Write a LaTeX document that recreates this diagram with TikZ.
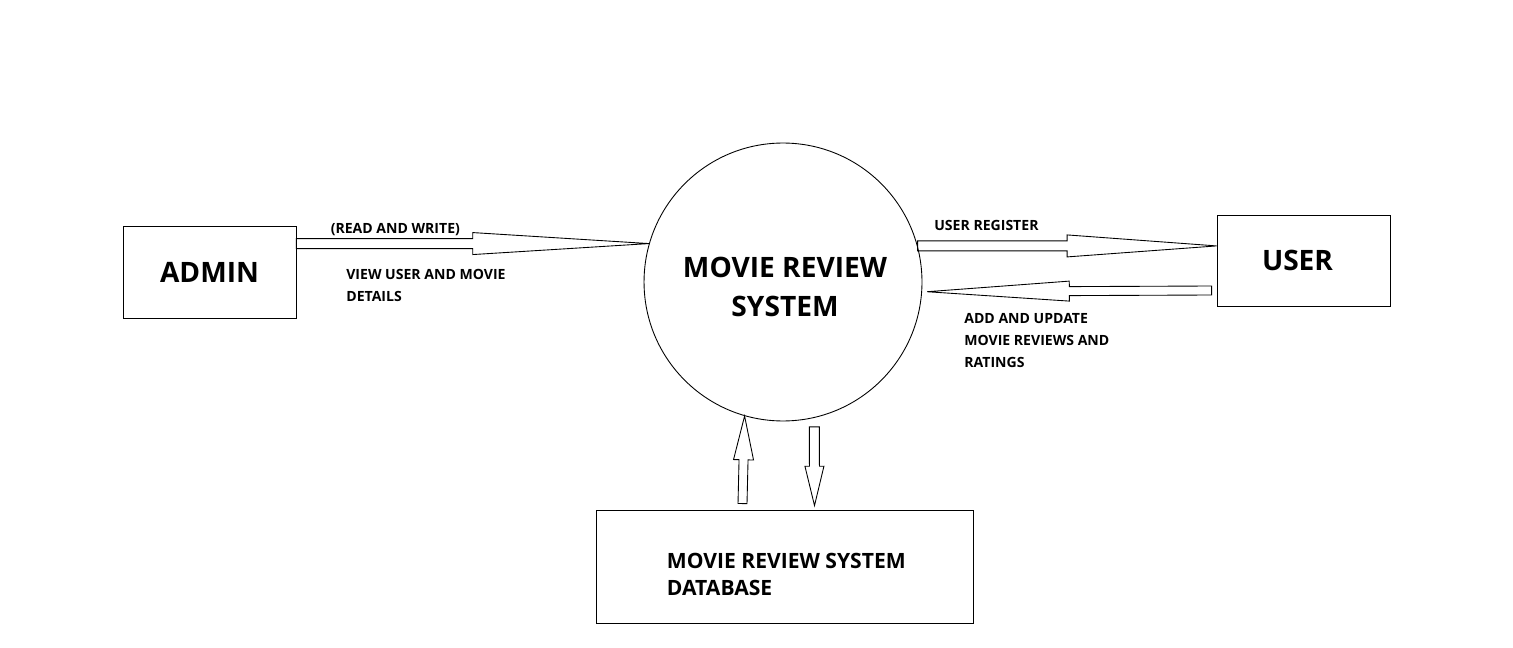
\documentclass[tikz,border=0pt]{standalone}
\usepackage{fontspec}
\setmainfont{Open Sans}
\usetikzlibrary{calc,positioning}
\tikzset{
  ebox/.style={draw,line width=0.5pt,inner sep=0pt},
  proc/.style={draw,shape=circle,line width=0.5pt,inner sep=0pt,minimum size=5.56cm},
  lbl/.style={inner sep=0pt,align=left,font=\bfseries\fontsize{8}{12.5}\selectfont},
  flow/.style={draw,line width=0.5pt,line join=miter}
}
% hollow block arrow: tail, tip, shaft half width, head half width
\newcommand{\flowarrow}[4]{%
  \coordinate (fm) at ($(#1)!.5!(#2)$);
  \draw[flow] ($(#1)!#3!90:(#2)$) -- ($(fm)!#3!90:(#2)$) -- ($(fm)!#4!90:(#2)$) -- (#2)
    -- ($(fm)!#4!-90:(#2)$) -- ($(fm)!#3!-90:(#2)$) -- ($(#1)!#3!-90:(#2)$) -- cycle;}
\begin{document}
\begin{tikzpicture}[x=0.02cm,y=-0.02cm]
\useasboundingbox (0,0) rectangle (1513,648);
\node[proc] (circ) at (783,282) {};
\node[align=center,inner sep=0pt,font=\bfseries\fontsize{16}{22}\selectfont] (ctext) at ($(circ.center)+(2,5)$) {MOVIE REVIEW\\SYSTEM};
\node[ebox,minimum width=3.46cm,minimum height=1.84cm,font=\bfseries\fontsize{16}{20}\selectfont] (admin) at (209.5,272) {ADMIN};
\node[ebox,minimum width=3.46cm,minimum height=1.82cm] (user) at (1303.5,260.5) {};
\node[inner sep=0pt,font=\bfseries\fontsize{16}{20}\selectfont] (utext) at ($(user.center)+(-6,0)$) {USER};
\node[ebox,minimum width=7.54cm,minimum height=2.26cm] (db) at (784.5,566.5) {};
\node[inner sep=0pt,anchor=west,align=left,font=\bfseries\fontsize{12}{15.3}\selectfont] (dbtext) at ($(db.west)+(71,8)$) {MOVIE REVIEW SYSTEM\\DATABASE};
% end points of the flows
\coordinate (a1s) at (admin.east |- circ.164);
\coordinate (a1e) at (circ.164);
\coordinate (a2s) at (circ.15);
\coordinate (a2e) at (user.west |- circ.15);
\coordinate (a3s) at ($(user.west)+(-5,30)$);
\coordinate (a3e) at ($(circ.-4)+(5,0)$);
\coordinate (a4s) at ($(db.north)+(-42,-6)$);
\coordinate (a4e) at (circ.-106.5);
\coordinate (a5s) at ($(circ.-77)+(0,9)$);
\coordinate (a5e) at ($(db.north)+(30,-4)$);
\foreach \s/\t/\w/\h in {a1s/a1e/0.1cm/0.22cm,a2s/a2e/0.1cm/0.22cm,a3s/a3e/0.09cm/0.2cm,
  a4s/a4e/0.09cm/0.2cm,a5s/a5e/0.1cm/0.19cm}{
  \flowarrow{\s}{\t}{\w}{\h}
}
\node[lbl,anchor=west] (rw) at ($(admin.north east)+(34,4)$) {(READ AND WRITE)};
\node[lbl,anchor=north west] (view) at (346,269) {VIEW USER AND MOVIE\\DETAILS};
\node[lbl,anchor=west] (reg) at (934,225) {USER REGISTER};
\node[lbl,anchor=north west] (add) at (964,313) {ADD AND UPDATE\\MOVIE REVIEWS AND\\RATINGS};
\end{tikzpicture}
\end{document}
